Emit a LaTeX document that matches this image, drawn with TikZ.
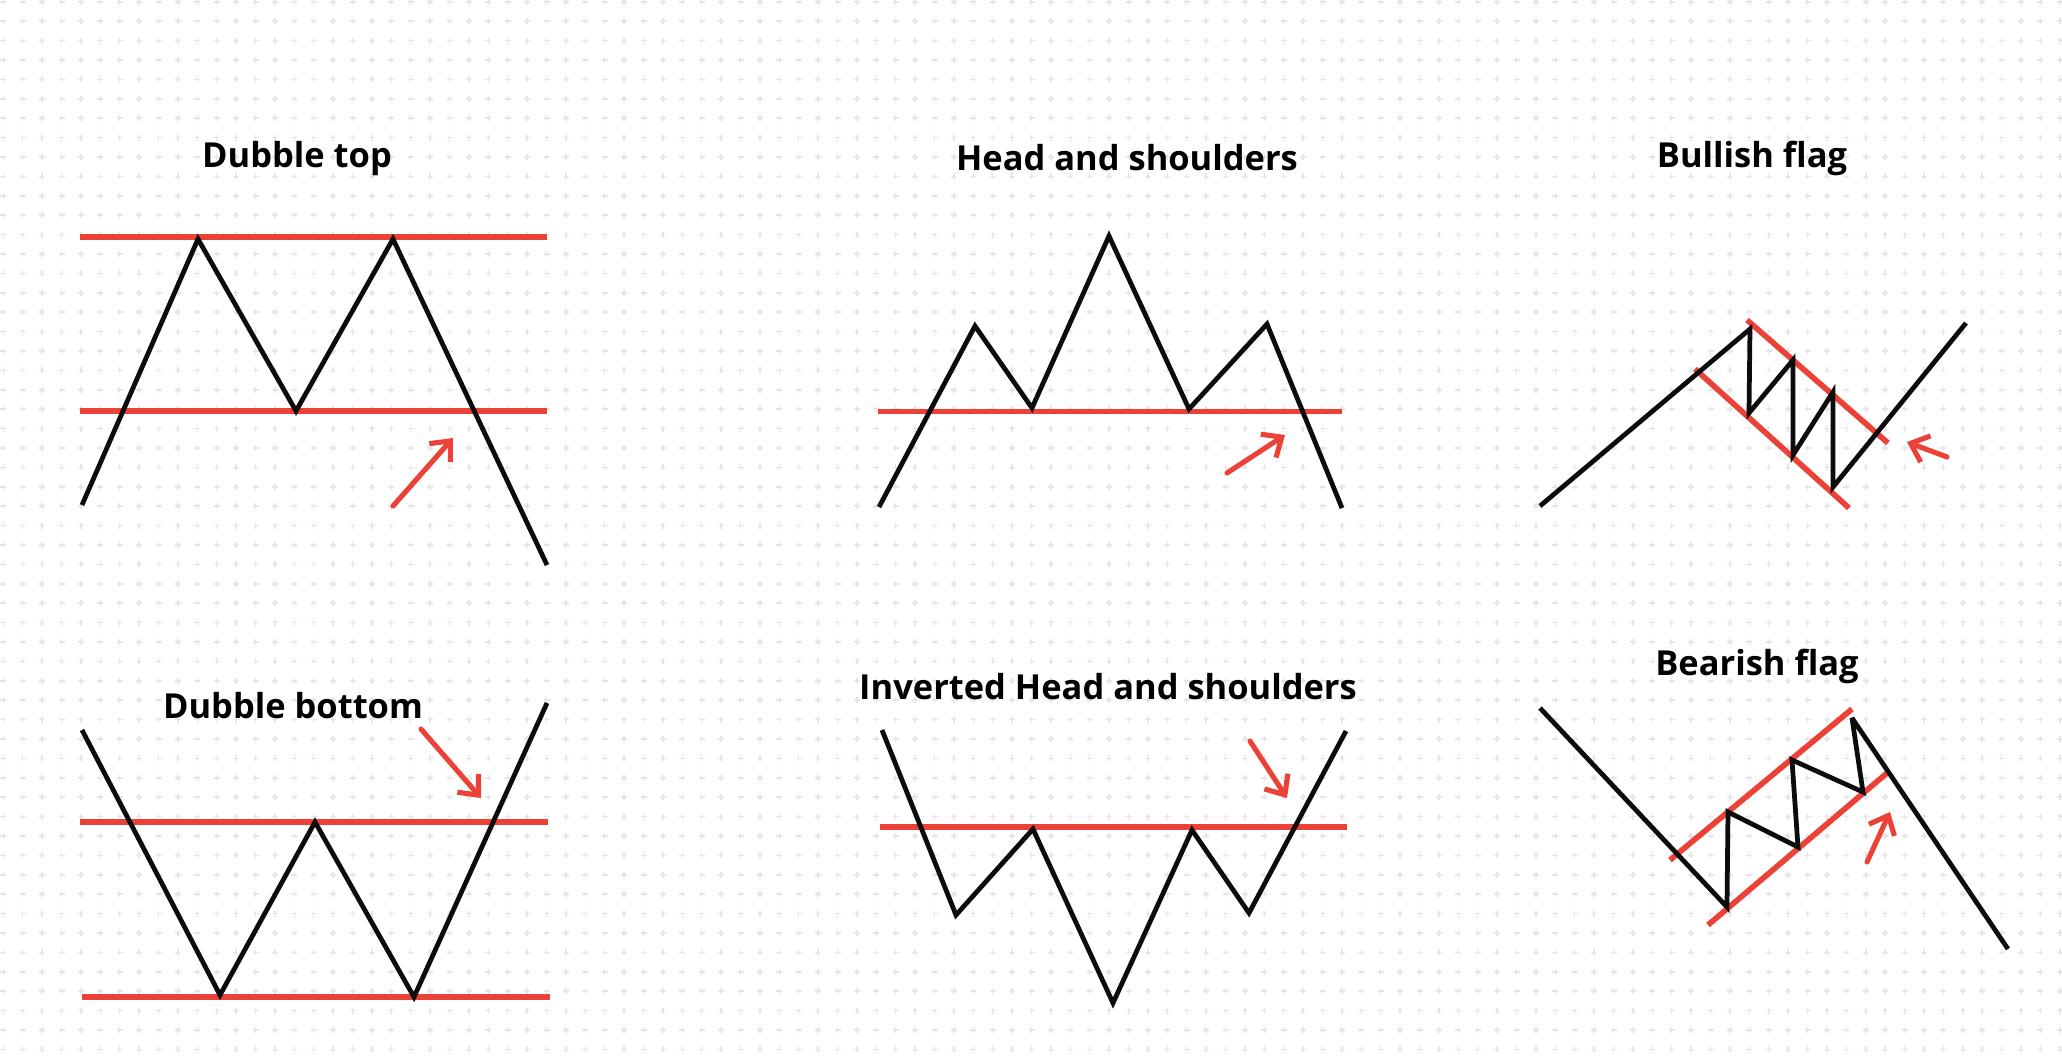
\documentclass[tikz,border=0pt]{standalone}
\usepackage{fontspec}
\setmainfont{Open Sans}
\usepackage{tikz}
\usetikzlibrary{arrows.meta}
\definecolor{fundo}{HTML}{FFFFFF}
\definecolor{ponto}{HTML}{E4E6EA}
\definecolor{preco}{HTML}{0C0C0C}
\definecolor{nivel}{HTML}{EC4137}
\begin{document}
\begin{tikzpicture}[x=0.01cm,y=-0.01cm, font=\fontsize{9.8}{11}\selectfont\bfseries,
    preco/.style={draw=preco, line width=1.35pt, line join=miter, miter limit=4},
    nivel/.style={draw=nivel, line width=1.6pt},
    aviso/.style={draw=nivel, line width=1.45pt, line cap=round, -{Straight Barb[length=1.6mm,width=2.8mm,line width=1.45pt]}},
    titulo/.style={text=black, inner sep=1pt}]
  \useasboundingbox[fill=fundo] (0,0) rectangle (2062,1056);
  \draw[ponto, line width=0.45pt] \foreach \r in {0,...,54}{\foreach \c in {0,...,106}{
      ({3.3+19.4*\c},{1.7+19.4*\r}) ++(-3,0) -- ++(6,0) ++(-3,-3) -- ++(0,6)}};
  % Dubble top
  \node[titulo] (dtop) at (297,159) {Dubble top};
  \draw[nivel] (80,237) -- (547,237);
  \draw[nivel] (80,411) -- (547,411);
  \draw[preco] (82,505) -- (198,239) -- (296,411) -- (393,239) -- (547,565);
  \draw[aviso] (393,506) -- (453,438);
  % Head and shoulders
  \node[titulo] (hs) at (1127,158) {Head and shoulders};
  \draw[nivel] (878,411.5) -- (1342,411.5);
  \draw[preco] (879,507) -- (975,326) -- (1032,408) -- (1109,236) -- (1189,409) -- (1267,324) -- (1342,508);
  \draw[aviso] (1227,473) -- (1285,435);
  % Bullish flag
  \node[titulo] (bull) at (1752,158) {Bullish flag};
  \draw[nivel] (1747,320) -- (1888,443);
  \draw[nivel] (1695,369) -- (1849,508);
  \draw[preco] (1540,506) -- (1750,329) -- (1749,413) -- (1793,360) -- (1793,455) -- (1833,392) -- (1833,487) -- (1966,323);
  \draw[aviso] (1947,457) -- (1907,442);
  % Dubble bottom
  \node[titulo] (dbot) at (293,706) {Dubble bottom};
  \draw[nivel] (80,822) -- (548,822);
  \draw[nivel] (82,997) -- (550,997);
  \draw[preco] (82,730) -- (220,995) -- (315,822) -- (414,997) -- (547,703);
  \draw[aviso] (421,729) -- (481,798);
  % Inverted Head and shoulders
  \node[titulo] (ihs) at (1108,687) {Inverted Head and shoulders};
  \draw[nivel] (880,827) -- (1347,827);
  \draw[preco] (882,730) -- (956,915) -- (1033,829) -- (1113,1003) -- (1192,830) -- (1249,913) -- (1346,731);
  \draw[aviso] (1250,741) -- (1287,798);
  % Bearish flag
  \node[titulo] (bear) at (1757,666) {Bearish flag};
  \draw[nivel] (1670,860) -- (1852,709);
  \draw[nivel] (1708,925) -- (1887,773);
  \draw[preco] (1540,708) -- (1727,907) -- (1728,812) -- (1798,847) -- (1792,760) -- (1863,792) -- (1852,718) -- (2008,949);
  \draw[aviso] (1867,862) -- (1890,812);
\end{tikzpicture}
\end{document}
